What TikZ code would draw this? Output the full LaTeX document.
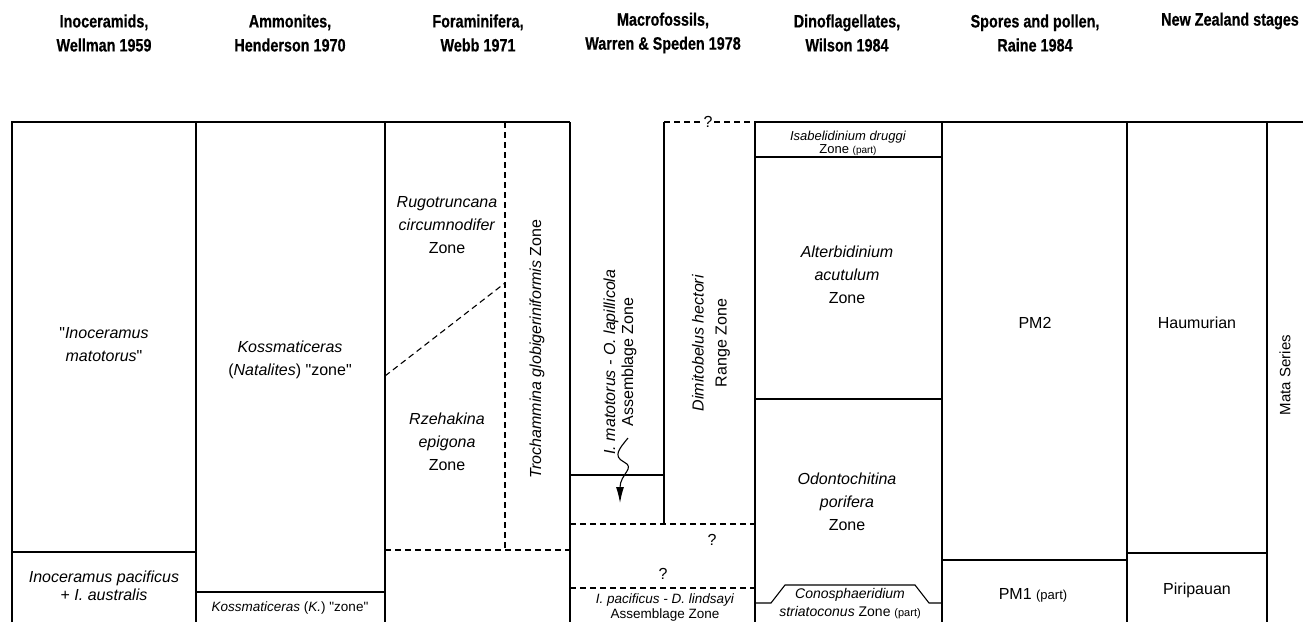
\documentclass[tikz,border=0pt]{standalone}
\usepackage{fontspec}
\setmainfont{Liberation Sans}
\newfontfamily\headfont[FakeStretch=0.8,BoldFeatures={FakeBold=0.5}]{Liberation Sans}
\usetikzlibrary{arrows.meta}
\newcommand{\qm}{\textquotedbl}

\begin{document}
\begin{tikzpicture}[x=1pt,y=-1pt]
	\tikzstyle{every node}=[inner sep=0pt,align=center]
	\tikzstyle{head}=[font=\headfont\bfseries\fontsize{18}{24}\selectfont]
	\tikzstyle{zone}=[font=\fontsize{16}{23}\selectfont]
	\tikzstyle{tight zone}=[font=\fontsize{16}{18}\selectfont]
	\tikzstyle{small zone}=[font=\fontsize{13.5}{15}\selectfont]
	\tikzstyle{border}=[line width=1.1pt]
	\tikzstyle{guess}=[line width=1.1pt,dash pattern=on 6pt off 4pt]
	\useasboundingbox (0,0) rectangle (1303,622);
	% column heads
	\node[head] (h-ino) at (104,33) {Inoceramids,\\Wellman 1959};
	\node[head] (h-amm) at (290,33) {Ammonites,\\Henderson 1970};
	\node[head] (h-for) at (478,33) {Foraminifera,\\Webb 1971};
	\node[head] (h-mac) at (663,33) {Macrofossils,\\Warren \& Speden 1978};
	\node[head] (h-din) at (847,33) {Dinoflagellates,\\Wilson 1984};
	\node[head] (h-spo) at (1035,33) {Spores and pollen,\\Raine 1984};
	\node[head] (h-nzs) at (1230,21) {New Zealand stages};
	% frame
	\draw[border] (12,622) -- (12,122) -- (570,122);
	\draw[border] (755,122) -- (1303,122);
	\draw[guess] (664,122) -- (755,122);
	\node[zone,fill=white,inner sep=2pt] (q-top) at (708,122) {?};
	\foreach \x in {196,385,570,755,942,1127,1267}
		\draw[border] (\x,122) -- (\x,622);
	\draw[border] (664,122) -- (664,524);
	% zone boundaries
	\draw[border] (12,552) -- (196,552);
	\draw[border] (196,592) -- (385,592);
	\draw[guess] (505,122) -- (505,550);
	\draw[guess] (385,550) -- (570,550);
	\draw[guess] (385,376) -- (505,283);
	\draw[border] (570,475) -- (664,475);
	\draw[guess] (570,524) -- (755,524);
	\draw[guess] (570,588) -- (755,588);
	\draw[border] (755,157) -- (942,157);
	\draw[border] (755,399) -- (942,399);
	\draw[border] (755,603) -- (771,603) -- (785,585) -- (915,585) -- (929,603) -- (942,603);
	\draw[border] (942,560) -- (1127,560);
	\draw[border] (1127,553) -- (1267,553);
	% zone names
	\node[zone] (ino-mat) at (104,345) {\qm\textit{Inoceramus}\\\textit{matotorus}\qm};
	\node[tight zone] (ino-pac) at (104,586) {\textit{Inoceramus pacificus}\\+ \textit{I. australis}};
	\node[zone] (amm-nat) at (290,360) {\textit{Kossmaticeras}\\(\textit{Natalites}) \qm zone\qm};
	\node[small zone] (amm-kos) at (290,608) {\textit{Kossmaticeras} (\textit{K.}) \qm zone\qm};
	\node[zone] (for-rug) at (447,225) {\textit{Rugotruncana}\\\textit{circumnodifer}\\Zone};
	\node[zone] (for-rze) at (447,442) {\textit{Rzehakina}\\\textit{epigona}\\Zone};
	\node[zone,rotate=90] (for-tro) at (537,349) {\textit{Trochammina globigeriniformis} Zone};
	\node[tight zone,rotate=90] (mac-mat) at (620,362) {\textit{I. matotorus - O. lapillicola}\\Assemblage Zone};
	\node[zone,rotate=90] (mac-dim) at (711,343) {\textit{Dimitobelus hectori}\\Range Zone};
	\node[zone] (q-a) at (712,540) {?};
	\node[zone] (q-b) at (663,574) {?};
	\node[small zone] (mac-pac) at (665,607) {\textit{I. pacificus - D. lindsayi}\\Assemblage Zone};
	\node[font=\fontsize{13}{13}\selectfont] (din-isa) at (848,143) {\textit{Isabelidinium druggi}\\Zone {\fontsize{10}{10}\selectfont(part)}};
	\node[zone] (din-alt) at (847,275) {\textit{Alterbidinium}\\\textit{acutulum}\\Zone};
	\node[zone] (din-odo) at (847,502) {\textit{Odontochitina}\\\textit{porifera}\\Zone};
	\node[font=\fontsize{14}{18}\selectfont] (din-con) at (850,604) {\textit{Conosphaeridium}\\\textit{striatoconus} Zone {\fontsize{11}{11}\selectfont(part)}};
	\node[zone] (spo-pm2) at (1035,323) {PM2};
	\node[zone] (spo-pm1) at (1033,595) {PM1 {\fontsize{13}{13}\selectfont(part)}};
	\node[zone] (nzs-hau) at (1197,323) {Haumurian};
	\node[zone] (nzs-pir) at (1197,590) {Piripauan};
	\node[font=\fontsize{15}{15}\selectfont,rotate=90] (nzs-mat) at (1285,375) {Mata Series};
	% arrow into the lower box
	\coordinate (arr-tail) at (628,438);
	\coordinate (arr-head) at (620,503);
	\draw[border,-{Latex[length=16pt,width=8pt]}] (arr-tail) .. controls (620,448) and (612,456) .. (624,462)
		.. controls (636,468) and (620,474) .. (arr-head);
\end{tikzpicture}
\end{document}
